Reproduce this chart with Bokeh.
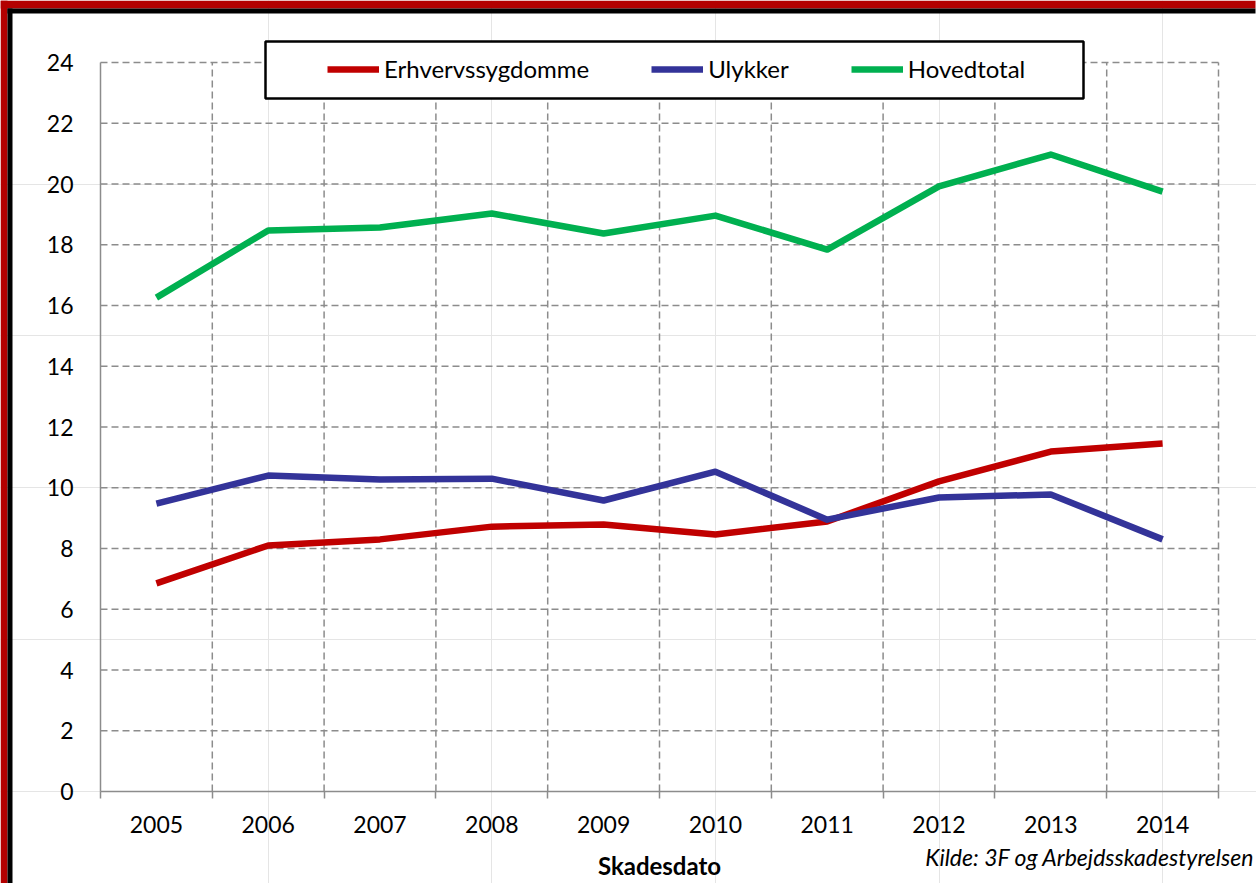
from bokeh.plotting import figure
from bokeh.models import (Range1d, FixedTicker, Legend, LegendItem, BoxAnnotation, Label, LinearAxis)
from bokeh.embed import file_html
from bokeh.resources import INLINE

# ---- data ----
years = [2005, 2006, 2007, 2008, 2009, 2010, 2011, 2012, 2013, 2014]
erhvervssygdomme = [6.85, 8.10, 8.30, 8.72, 8.79, 8.46, 8.89, 10.21, 11.19, 11.46]
ulykker = [9.48, 10.40, 10.27, 10.30, 9.58, 10.53, 8.95, 9.68, 9.78, 8.30]
hovedtotal = [16.26, 18.47, 18.57, 19.03, 18.37, 18.96, 17.84, 19.92, 20.97, 19.75]
y_ticks = [0, 2, 4, 6, 8, 10, 12, 14, 16, 18, 20, 22, 24]
series_names = ["Erhvervssygdomme", "Ulykker", "Hovedtotal"]
series_colors = ["#C00000", "#333399", "#00B050"]
x_title = "Skadesdato"
source_note = "Kilde: 3F og Arbejdsskadestyrelsen"

W, H = 1256, 883
FONT = "Lato"
GRID = "#8C8C8C"

# plot area in canvas pixels
PL, PR, PT, PB = 100, 1218, 62, 791
x0, x1 = years[0] - 0.5, years[-1] + 0.5
y0, y1 = y_ticks[0], y_ticks[-1]
kx = (PR - PL) / (x1 - x0)
ky = (PB - PT) / (y1 - y0)
x_range = Range1d(x0 - PL / kx, x1 + (W - PR) / kx)
y_range = Range1d(y0 - (H - PB) / ky, y1 + PT / ky)

p = figure(width=W, height=H, output_backend="svg", toolbar_location=None,
           x_range=x_range, y_range=y_range, title=None,
           x_axis_location=None, y_axis_location=None,
           min_border=0, min_border_left=0, min_border_right=0,
           min_border_top=0, min_border_bottom=0)
p.background_fill_color = "white"
p.border_fill_color = "white"
p.outline_line_color = None

# dashed grid lines inside the plot area
bounds_x = [y - 0.5 for y in years] + [years[-1] + 0.5]
p.segment(x0=[x0] * (len(y_ticks) - 1), y0=y_ticks[1:], x1=[x1] * (len(y_ticks) - 1), y1=y_ticks[1:],
          line_color=GRID, line_width=1.5, line_dash="7 4")
p.segment(x0=bounds_x[1:], y0=[y0] * (len(bounds_x) - 1), x1=bounds_x[1:], y1=[y1] * (len(bounds_x) - 1),
          line_color=GRID, line_width=1.5, line_dash="7 4")

# axes fixed at the plot area edges
xt = FixedTicker(ticks=years, minor_ticks=bounds_x)
xaxis = LinearAxis(ticker=xt, fixed_location=y0, bounds=(x0, x1))
xaxis.major_tick_line_color = None
xaxis.major_tick_out = 7
xaxis.major_tick_in = 0
xaxis.minor_tick_line_color = GRID
xaxis.minor_tick_line_width = 1.5
xaxis.minor_tick_out = 7
xaxis.minor_tick_in = 0
xaxis.major_label_standoff = 17
p.add_layout(xaxis, "below")

yt = FixedTicker(ticks=y_ticks)
yaxis = LinearAxis(ticker=yt, fixed_location=x0, bounds=(y0, y1))
yaxis.major_tick_line_color = None
yaxis.minor_tick_line_color = None
yaxis.major_tick_out = 0
yaxis.major_tick_in = 0
yaxis.major_label_standoff = 27
p.add_layout(yaxis, "left")

for ax in (xaxis, yaxis):
    ax.axis_line_color = GRID
    ax.axis_line_width = 1.5
    ax.major_label_text_font = FONT
    ax.major_label_text_font_size = "23px"
    ax.major_label_text_color = "black"

renderers = []
for vals, col in zip([erhvervssygdomme, ulykker, hovedtotal], series_colors):
    r = p.line(years, vals, line_color=col, line_width=6.5, line_join="round")
    renderers.append(r)

def cbox(l, r_, t, b, **kw):
    return BoxAnnotation(left=l, right=r_, top=t, bottom=b,
                         left_units="canvas", right_units="canvas",
                         top_units="canvas", bottom_units="canvas", **kw)

# outer red + black frame (only left and top are visible in the cropped original)
for l, r_, t, b, c in [(0, 7, 0, H, "#B30000"), (0, W - 1, 0, 8, "#B30000"),
                        (7, 12, 8, H, "black"), (7, W - 1, 8, 13, "black")]:
    p.add_layout(cbox(l, r_, t, b, fill_color=c, fill_alpha=1, line_color=None, line_alpha=0))

# legend box
p.add_layout(cbox(265, 1083, 41, 98, fill_color="white", fill_alpha=1,
                  line_color="black", line_alpha=1, line_width=2.5))

legend = Legend(items=[LegendItem(label=n, renderers=[r]) for n, r in zip(series_names, renderers)],
                orientation="horizontal", location=(327, H - 83),
                border_line_color=None, background_fill_alpha=0,
                padding=0, margin=0, spacing=62,
                glyph_width=52, glyph_height=26, label_height=26, label_standoff=5,
                label_text_font=FONT, label_text_font_size="24px", label_text_color="black")
p.add_layout(legend)

p.add_layout(Label(x=(PL + PR) / 2, y=H - 865, x_units="screen", y_units="screen", text=x_title,
                   text_align="center", text_baseline="middle",
                   text_font=FONT, text_font_style="bold", text_font_size="24px",
                   text_color="black"))
p.add_layout(Label(x=1254, y=H - 856, x_units="screen", y_units="screen", text=source_note,
                   text_align="right", text_baseline="middle",
                   text_font=FONT, text_font_style="italic", text_font_size="23px",
                   text_color="black"))

open("out.html", "w").write(file_html(p, INLINE))
